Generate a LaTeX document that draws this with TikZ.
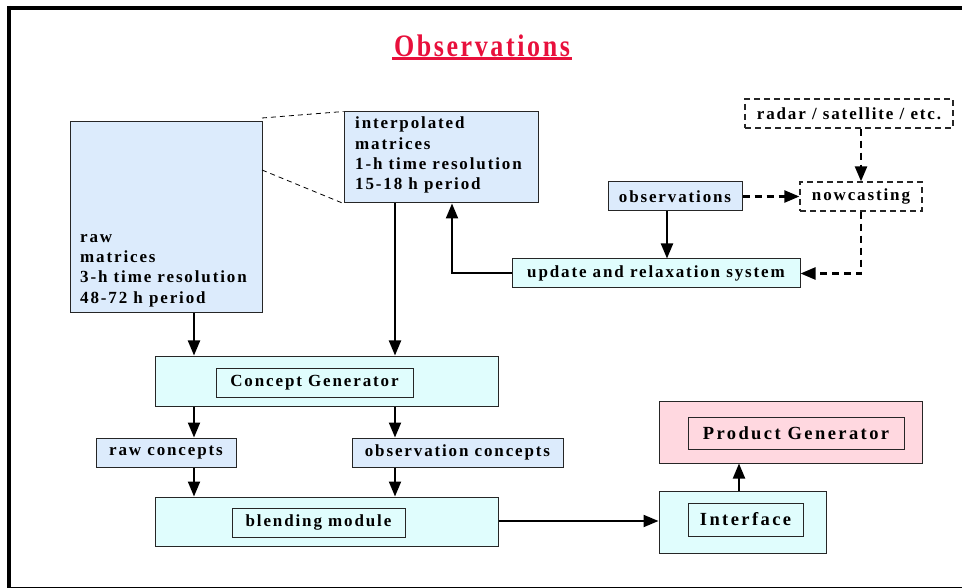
\documentclass[tikz,border=0pt]{standalone}
\usepackage{fontspec}
\usepackage{graphicx}
\usetikzlibrary{arrows.meta}
\newfontfamily\labfont[LetterSpace=11]{Liberation Serif}
\newfontfamily\bigfont[LetterSpace=13]{Liberation Serif}
\newfontfamily\titlefont[LetterSpace=10]{Liberation Serif}
\definecolor{lblue}{RGB}{220,235,252}
\definecolor{lcyan}{RGB}{224,253,253}
\definecolor{lpink}{RGB}{255,216,224}
\definecolor{tred}{RGB}{232,16,60}
\tikzset{
  lab/.style={font=\labfont\bfseries\fontsize{17}{20.3}\selectfont},
  biglab/.style={font=\bigfont\bfseries\fontsize{18.5}{22}\selectfont},
  box/.style={draw=black!85, line width=1pt, inner sep=0pt, lab},
  bluebox/.style={box, fill=lblue},
  cyanbox/.style={box, fill=lcyan},
  pinkbox/.style={box, fill=lpink},
  dbox/.style={box, fill=white, dash pattern=on 6pt off 4pt, line width=1.3pt},
  arr/.style={line width=2pt, -{Triangle[length=15pt,width=12pt]}},
  darr/.style={line width=2.4pt, dash pattern=on 7pt off 5pt, -{Triangle[length=15pt,width=12pt]}},
}
\begin{document}
\begin{tikzpicture}[x=1pt,y=-1pt]
\useasboundingbox (0,0) rectangle (962,588);
% frame
\draw[line width=4pt] (9,8) -- (962,8);
\draw[line width=4pt] (9,6) -- (9,588);
\draw[line width=1pt] (9,587.5) -- (962,587.5);
% title
\node[font=\titlefont\bfseries\fontsize{26}{30}\selectfont, text=tred, inner sep=0pt] (title) at (482,46) {\scalebox{1}[1.2]{Observations}};
\draw[tred, line width=2.2pt] (392,58.5) -- (572,58.5);

% raw matrices
\node[bluebox, minimum width=192pt, minimum height=191pt] (raw) at (166,217.5) {};
\node[lab, anchor=south west, align=left, inner sep=0pt] (rawtxt) at (80,307) {raw\\matrices\\3-h time resolution\\48-72 h period};
% interpolated
\node[bluebox, minimum width=194pt, minimum height=91pt] (interp) at (441,157.5) {};
\node[lab, anchor=north west, align=left, inner sep=0pt] (inttxt) at (355,117) {interpolated\\matrices\\1-h time resolution\\15-18 h period};
\draw[line width=0.8pt, dash pattern=on 5pt off 4pt] (262,118) -- (interp.north west);
\draw[line width=0.8pt, dash pattern=on 5pt off 4pt] (262,170) -- (interp.south west);

% observations, nowcasting, radar
\node[bluebox, minimum width=134pt, minimum height=29pt] (obs) at (675,196.5) {observations};
\node[dbox, minimum width=122pt, minimum height=29pt] (now) at (861,196.5) {nowcasting};
\node[dbox, minimum width=208pt, minimum height=29pt] (radar) at (849,113.5) {radar / satellite / etc.};
\node[cyanbox, minimum width=288pt, minimum height=29pt] (upd) at (656,273.5) {update and relaxation system};

\draw[arr] (obs.south -| 667,0) -- (upd.north -| 667,0);
\draw[darr] (obs.east) -- (now.west);
\draw[darr] (radar.south -| now.north) -- (now.north);
\draw[darr] (now.south) |- (upd.east);
\draw[arr] (upd.west) -| (interp.south -| 452,0);

% concept generator
\node[cyanbox, minimum width=343pt, minimum height=50pt] (cg) at (326.5,381) {};
\node[box, fill=lcyan, minimum width=197pt, minimum height=29pt] (cgi) at (314.5,382.5) {Concept Generator};
\draw[arr] (raw.south -| 194,0) -- (cg.north -| 194,0);
\draw[arr] (interp.south -| 395,0) -- (cg.north -| 395,0);

% concepts
\node[bluebox, minimum width=140pt, minimum height=29pt] (rc) at (166,452.5) {raw concepts};
\node[bluebox, minimum width=211pt, minimum height=29pt] (oc) at (457.5,452.5) {observation concepts};
\draw[arr] (cg.south -| 194,0) -- (rc.north -| 194,0);
\draw[arr] (cg.south -| 395,0) -- (oc.north -| 395,0);

% blending
\node[cyanbox, minimum width=343pt, minimum height=49pt] (bl) at (326.5,521.5) {};
\node[box, fill=lcyan, minimum width=173pt, minimum height=29pt] (bli) at (318.5,522.5) {blending module};
\draw[arr] (rc.south -| 194,0) -- (bl.north -| 194,0);
\draw[arr] (oc.south -| 395,0) -- (bl.north -| 395,0);

% interface and product generator
\node[cyanbox, minimum width=167pt, minimum height=62pt] (itf) at (742.5,522) {};
\node[box, fill=lcyan, biglab, minimum width=115pt, minimum height=33pt] (itfi) at (745.5,519.5) {Interface};
\node[pinkbox, minimum width=263pt, minimum height=62pt] (pg) at (790.5,432) {};
\node[box, fill=lpink, biglab, minimum width=216pt, minimum height=32pt] (pgi) at (796,433) {Product Generator};
\draw[arr] (bl.east |- 0,521) -- (itf.west |- 0,521);
\draw[arr] (itf.north -| 739,0) -- (pg.south -| 739,0);
\end{tikzpicture}
\end{document}
